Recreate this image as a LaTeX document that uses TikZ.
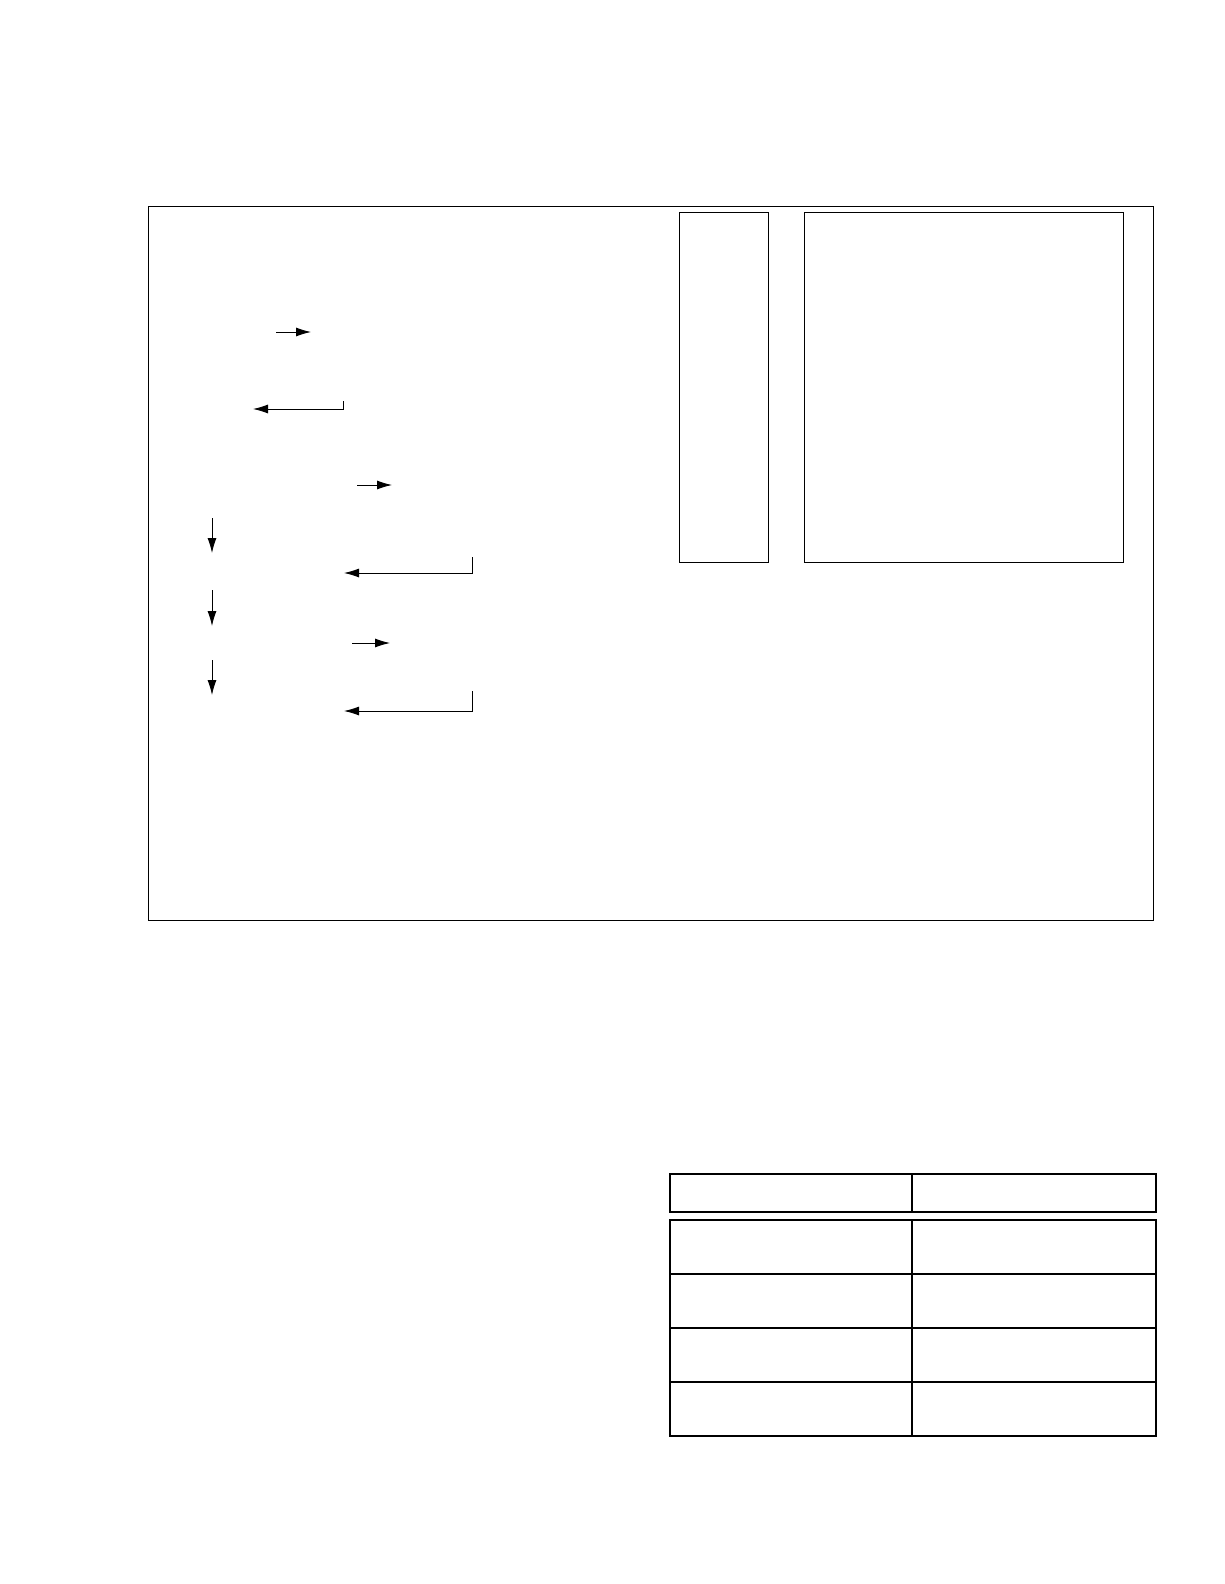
\documentclass[tikz,border=0pt]{standalone}
\usetikzlibrary{arrows.meta}
\tikzset{
  frame/.style={draw=black, line width=1pt, rectangle, inner sep=0pt, outer sep=0pt},
  cell/.style={draw=black, line width=1.1pt, rectangle, inner sep=0pt, outer sep=0pt},
  flow/.style={draw=black, line width=0.9pt, -{Latex[length=15pt,width=9pt]}},
}
\begin{document}
\begin{tikzpicture}[x=1pt,y=-1pt]
\useasboundingbox[fill=white] (0,0) rectangle (1224,1584);
% outer frame
\node[frame, minimum width=1005pt, minimum height=714pt] (outer) at (650.5,563) {};
% right boxes
\node[frame, minimum width=89pt, minimum height=350pt] (narrow) at (723.5,387) {};
\node[frame, minimum width=319pt, minimum height=350pt] (wide) at (963.5,387) {};
% arrows
\coordinate (a1s) at (276,332); \coordinate (a1e) at (311,332);
\draw[flow] (a1s) -- (a1e);
\coordinate (a2s) at (343,401); \coordinate (a2e) at (253,409);
\draw[flow] (a2s) |- (a2e);
\coordinate (a3s) at (357,485); \coordinate (a3e) at (392,485);
\draw[flow] (a3s) -- (a3e);
\coordinate (d1s) at (212,518); \coordinate (d1e) at (212,553);
\draw[flow] (d1s) -- (d1e);
\coordinate (a4s) at (472,557); \coordinate (a4e) at (344,573);
\draw[flow] (a4s) |- (a4e);
\coordinate (d2s) at (212,590); \coordinate (d2e) at (212,626);
\draw[flow] (d2s) -- (d2e);
\coordinate (a5s) at (352,643); \coordinate (a5e) at (390,643);
\draw[flow] (a5s) -- (a5e);
\coordinate (d3s) at (212,660); \coordinate (d3e) at (212,695);
\draw[flow] (d3s) -- (d3e);
\coordinate (a6s) at (472,691); \coordinate (a6e) at (344,711);
\draw[flow] (a6s) |- (a6e);
% table header
\node[cell, minimum width=242pt, minimum height=38pt] (h1) at (791,1193) {};
\node[cell, minimum width=244pt, minimum height=38pt] (h2) at (1034,1193) {};
% table body
\foreach \i/\yc in {1/1247,2/1301,3/1355,4/1409}{
  \node[cell, minimum width=242pt, minimum height=54pt] (l\i) at (791,\yc) {};
  \node[cell, minimum width=244pt, minimum height=54pt] (r\i) at (1034,\yc) {};
}
\end{tikzpicture}
\end{document}
